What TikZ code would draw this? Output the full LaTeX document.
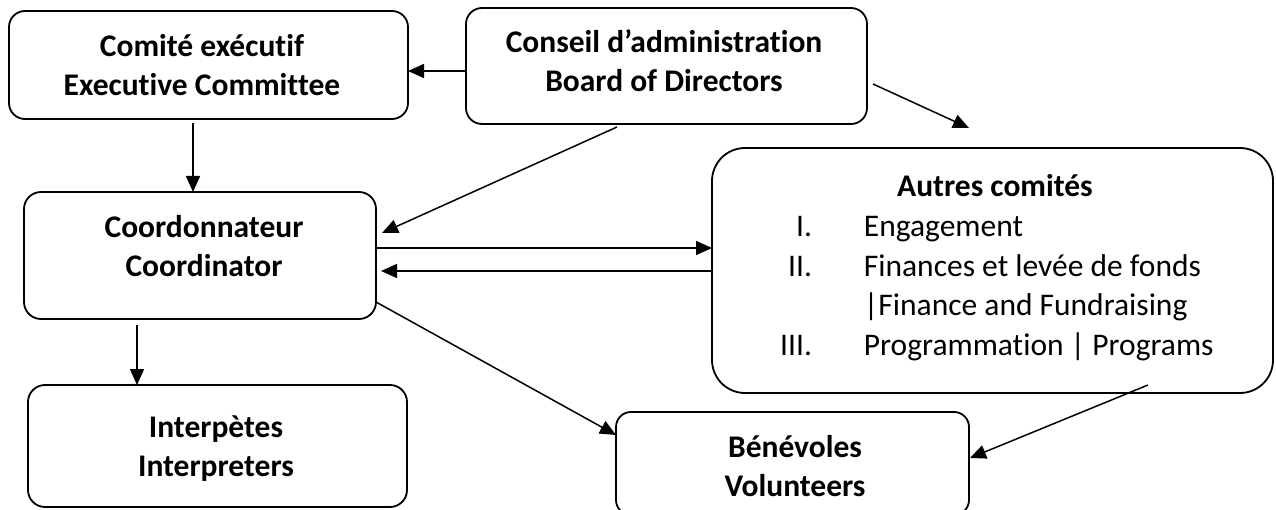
\documentclass[tikz,border=0pt]{standalone}
\usepackage{fontspec}
\setmainfont{Carlito}[Ligatures=CommonOff]
\usetikzlibrary{arrows.meta,calc}
\begin{document}
\begin{tikzpicture}[x=1pt,y=-1pt,
  box/.style={draw, line width=1.8pt, inner sep=0pt, outer sep=0pt, rounded corners=#1},
  box/.default=16pt,
  lbl/.style={inner sep=0pt, align=center, font=\bfseries\fontsize{31.5}{39}\selectfont},
  link/.style={line width=1.5pt, -{Triangle[length=16pt,width=14pt]}}]

% page area
\fill[white] (0,0) rectangle (1276,510);
\useasboundingbox (0,0) rectangle (1276,510);

% boxes
\node[box, minimum width=399pt, minimum height=108pt] (A) at (208.5,65) {};
\node[box, minimum width=401pt, minimum height=116pt] (B) at (666.5,66) {};
\node[box=17pt, minimum width=352pt, minimum height=127pt] (C) at (200,255.5) {};
\node[box=33pt, minimum width=561pt, minimum height=245pt] (D) at (992.5,270.5) {};
\node[box=17pt, minimum width=379pt, minimum height=122pt] (E) at (217.5,446) {};
\node[box=15pt, minimum width=353pt, minimum height=103pt] (F) at (792.5,463.5) {};

% box texts
\node[lbl] (At) at (202,68.7) {\strut Comité exécutif\\Executive Committee\strut};
\node[lbl] (Bt) at (664,64.7) {\strut Conseil d’administration\\Board of Directors\strut};
\node[lbl] (Ct) at (204,249.7) {\strut Coordonnateur\\Coordinator\strut};
\node[lbl] (Et) at (216,448.7) {\strut Interpètes\\Interpreters\strut};
\node[lbl] (Ft) at (795,468.7) {\strut Bénévoles\\Volunteers\strut};

\node[inner sep=0pt, anchor=base, font=\bfseries\fontsize{31.5}{39.5}\selectfont]
  (Dt) at (995,196.5) {Autres comités};
\node[inner sep=0pt, anchor=north west, font=\fontsize{31.5}{39.5}\selectfont]
  (Dl) at (780,208.85) {%
  \begin{tabular}{@{}r@{\hspace{52pt}}l@{}}
  I.   & Engagement\\
  II.  & Finances et levée de fonds\\
       & |Finance and Fundraising\\
  III. & Programmation | Programs
  \end{tabular}};

% free end of the board-to-committees arrow
\coordinate (bdEnd) at (969,128);

% connectors
\draw[link] ($(B.west)+(0,5)$) -- ($(A.east)+(0,6)$);
\draw[link] ($(A.south)+(-15.5,4)$) -- ($(C.north)+(-7,0)$);
\draw[link] ($(B.south)+(-49.5,3)$) -- ($(C.east)+(6,-22.5)$);
\draw[link] ($(B.east)+(6,18)$) -- (bdEnd);
\draw[link] ($(C.east)+(0,-7.5)$) -- ($(D.west)+(0,-22.5)$);
\draw[link] ($(D.west)+(0,0.5)$) -- ($(C.east)+(5,15.5)$);
\draw[link] ($(C.south)+(-63,6)$) -- ($(E.north)+(-80.5,0)$);
\draw[link] ($(C.east)+(0,46.5)$) -- ($(F.west)+(0,-28.5)$);
\draw[link] ($(D.south)+(155.5,-8)$) -- ($(F.east)+(1,-5.5)$);
\end{tikzpicture}
\end{document}
